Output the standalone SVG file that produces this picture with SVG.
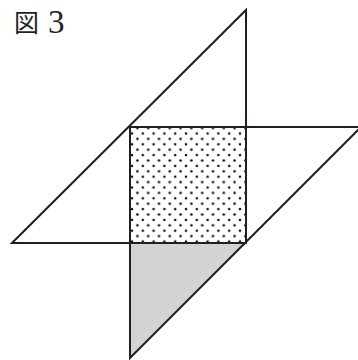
<svg xmlns="http://www.w3.org/2000/svg" width="358" height="360" viewBox="0 0 358 360">
<style>
.ln{fill:none;stroke:#231f20;stroke-width:2;stroke-linejoin:miter;stroke-linecap:butt}
.lbl{fill:#231f20}
.dot{fill:#111}
</style>
<defs>
<pattern id="dots" patternUnits="userSpaceOnUse" x="132" y="133.5" width="10.8" height="10.8">
<circle class="dot" cx="0" cy="0" r="1.3"/>
<circle class="dot" cx="10.8" cy="0" r="1.3"/>
<circle class="dot" cx="0" cy="10.8" r="1.3"/>
<circle class="dot" cx="10.8" cy="10.8" r="1.3"/>
<circle class="dot" cx="5.4" cy="5.4" r="1.3"/>
</pattern>
</defs>
<rect width="358" height="360" fill="#fff"/>
<g id="title">
<text class="lbl" x="14" y="32" font-family="'Noto Sans CJK JP', sans-serif" font-size="25">図</text>
<text class="lbl" x="48" y="33" font-family="'Liberation Serif', serif" font-size="33">3</text>
</g>
<g id="shaded-triangle">
<polygon points="130,243 246,243 130,358" fill="#d3d3d4"/>
</g>
<g id="dotted-square">
<rect x="130" y="127" width="116" height="116" fill="url(#dots)"/>
</g>
<g id="connectors">
<polygon class="ln" points="12,243 246,10 246,243"/>
<polyline class="ln" points="358,127 130,127 130,358 360,128"/>
<rect class="ln" x="130" y="127" width="116" height="116"/>
</g>
</svg>
